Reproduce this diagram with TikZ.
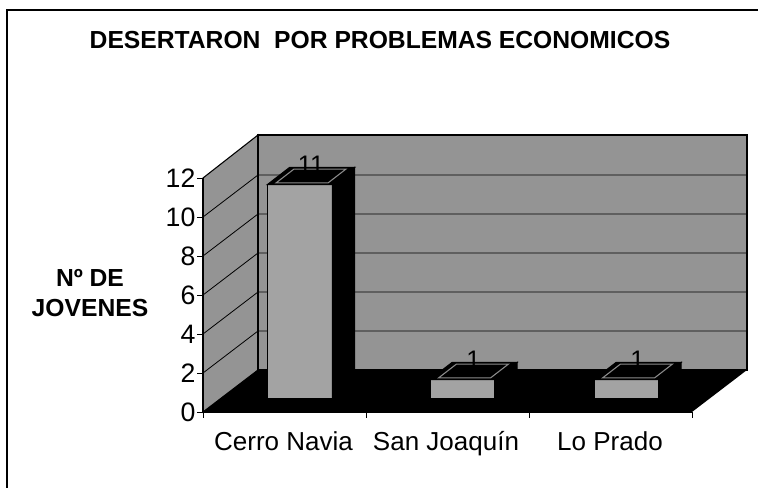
\documentclass[tikz,border=0pt]{standalone}
\usepackage{fontspec}
\setmainfont{Liberation Sans}
\usetikzlibrary{positioning}

\begin{document}
\begin{tikzpicture}[x=0.75pt, y=-0.75pt,
    wall/.style={fill=black!42, draw=black, line width=0.8pt},
    grid line/.style={black, line width=0.6pt},
    tick label/.style={font=\fontsize{20}{22}\selectfont, anchor=east, inner sep=1pt},
    cat label/.style={font=\fontsize{19.5}{22}\selectfont, anchor=base},
    value label/.style={font=\fontsize{19}{20}\selectfont, anchor=base, inner sep=0pt},
    bar front/.style={fill=black!36, draw=black, line width=0.8pt},
    bar side/.style={fill=black, draw=black, line width=0.8pt},
    bar top/.style={fill=black, draw=black, line width=0.8pt}]
  \useasboundingbox (0,0) rectangle (758,488);
  \fill[white] (0,0) rectangle (758,488);
  \draw[line width=0.8pt] (7,490) -- (7,10) -- (760,10);

  % titles
  \node (title) at (380,40) {\fontsize{18.5}{20}\selectfont\bfseries DESERTARON\ \ POR PROBLEMAS ECONOMICOS};
  \node[align=center, font=\fontsize{18.5}{23}\selectfont\bfseries] (ylabel) at (90,293) {Nº DE\\JOVENES};

  % walls and floor
  \draw[wall] (203,412) -- (203,178) -- (258,135) -- (258,370) -- cycle;
  \draw[wall] (258,135) rectangle (747,370);
  \fill[black] (203,412) -- (258,370) -- (747,370) -- (692,412) -- cycle;
  \foreach \v in {2,4,...,10}
    \draw[grid line] (203,{412-19.5*\v}) -- (258,{370-19.5*\v}) -- (747,{370-19.5*\v});

  % axes
  \draw[line width=0.8pt] (203,178) -- (203,412) -- (692,412);
  \foreach \v in {0,2,...,12} {
    \draw (197,{412-19.5*\v}) -- (203,{412-19.5*\v});
    \node[tick label] (tick\v) at (197,{412-19.5*\v}) {\v};
  }
  \foreach \k in {0,...,3}
    \draw ({203+163*\k},412) -- ({203+163*\k},418);

  % bars
  \foreach \c/\v/\name [count=\i] in {283.5/11/Cerro Navia, 446/1/San Joaquín, 610/1/Lo Prado} {
    \pgfmathsetmacro\h{19.5*\v}
    \draw[bar front] ({\c-16},399) rectangle ({\c+49},{399-\h});
    \draw[bar side] ({\c+49},399) -- ({\c+71},382) -- ({\c+71},{382-\h}) -- ({\c+49},{399-\h}) -- cycle;
    \draw[bar top] ({\c-16},{399-\h}) -- ({\c+49},{399-\h}) -- ({\c+71},{382-\h}) -- ({\c+6},{382-\h}) -- cycle;
    \draw[black!45, line width=0.8pt] ({\c-7.3},{397.3-\h}) -- ({\c+44.7},{397.3-\h}) -- ({\c+62.3},{383.7-\h}) -- ({\c+10.3},{383.7-\h}) -- cycle;
    \node[value label] (value\i) at ({\c+27.5},{388-\h}) {\v};
    \node[cat label] (cat\i) at (\c,451) {\name};
  }
\end{tikzpicture}
\end{document}
